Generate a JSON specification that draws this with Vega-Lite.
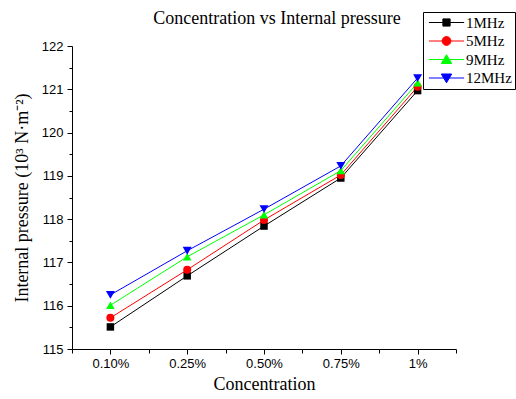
{
  "$schema": "https://vega.github.io/schema/vega-lite/v6.json",
  "width": 384,
  "height": 303,
  "autosize": {"type": "none"},
  "padding": {"left": 72, "top": 46, "right": 60, "bottom": 50},
  "background": "white",
  "config": {
    "view": {"stroke": null},
    "axis": {
      "domainColor": "black",
      "tickColor": "black",
      "grid": false,
      "labelFont": "Liberation Sans",
      "labelFontSize": 13,
      "labelColor": "black",
      "titleFont": "Liberation Serif",
      "titleFontSize": 18,
      "titleFontWeight": "normal",
      "titleColor": "black"
    },
    "legend": {
      "labelFont": "Liberation Serif",
      "labelFontSize": 15,
      "labelColor": "black"
    }
  },
  "title": {
    "text": "Concentration vs Internal pressure",
    "font": "Liberation Serif",
    "fontSize": 18,
    "fontWeight": "normal",
    "color": "black",
    "anchor": "middle",
    "dx": 13,
    "dy": 30,
    "offset": 14
  },
  "data": {
    "values": [
      {"conc": 1, "label": "0.10%", "series": "1MHz", "p": 115.51},
      {"conc": 2, "label": "0.25%", "series": "1MHz", "p": 116.69},
      {"conc": 3, "label": "0.50%", "series": "1MHz", "p": 117.84},
      {"conc": 4, "label": "0.75%", "series": "1MHz", "p": 118.95},
      {"conc": 5, "label": "1%", "series": "1MHz", "p": 120.97},
      {"conc": 1, "label": "0.10%", "series": "5MHz", "p": 115.72},
      {"conc": 2, "label": "0.25%", "series": "5MHz", "p": 116.83},
      {"conc": 3, "label": "0.50%", "series": "5MHz", "p": 117.98},
      {"conc": 4, "label": "0.75%", "series": "5MHz", "p": 119.02},
      {"conc": 5, "label": "1%", "series": "5MHz", "p": 121.06},
      {"conc": 1, "label": "0.10%", "series": "9MHz", "p": 116.01},
      {"conc": 2, "label": "0.25%", "series": "9MHz", "p": 117.13},
      {"conc": 3, "label": "0.50%", "series": "9MHz", "p": 118.1},
      {"conc": 4, "label": "0.75%", "series": "9MHz", "p": 119.12},
      {"conc": 5, "label": "1%", "series": "9MHz", "p": 121.15},
      {"conc": 1, "label": "0.10%", "series": "12MHz", "p": 116.25},
      {"conc": 2, "label": "0.25%", "series": "12MHz", "p": 117.27},
      {"conc": 3, "label": "0.50%", "series": "12MHz", "p": 118.23},
      {"conc": 4, "label": "0.75%", "series": "12MHz", "p": 119.23},
      {"conc": 5, "label": "1%", "series": "12MHz", "p": 121.26}
    ]
  },
  "encoding": {
    "x": {
      "field": "conc",
      "type": "quantitative",
      "scale": {"domain": [0.5, 5.5], "nice": false, "zero": false},
      "axis": {
        "title": "Concentration",
        "values": [0.5, 1, 1.5, 2, 2.5, 3, 3.5, 4, 4.5, 5, 5.5],
        "labelExpr": "datum.value == 1 ? '0.10%' : datum.value == 2 ? '0.25%' : datum.value == 3 ? '0.50%' : datum.value == 4 ? '0.75%' : datum.value == 5 ? '1%' : ''",
        "tickSize": {"condition": {"test": "datum.value % 1 === 0", "value": 5}, "value": 4},
        "labelPadding": 3,
        "titlePadding": 5,
        "labelFlush": false,
        "labelOverlap": false
      }
    },
    "y": {
      "field": "p",
      "type": "quantitative",
      "scale": {"domain": [115, 122], "nice": false, "zero": false},
      "axis": {
        "title": "Internal pressure (10³ N·m⁻²)",
        "values": [115, 115.5, 116, 116.5, 117, 117.5, 118, 118.5, 119, 119.5, 120, 120.5, 121, 121.5, 122],
        "labelExpr": "datum.value % 1 === 0 ? format(datum.value, 'd') : ''",
        "tickSize": {"condition": {"test": "datum.value % 1 === 0", "value": 5}, "value": 3},
        "labelPadding": 4,
        "titlePadding": 10,
        "labelFlush": false,
        "labelOverlap": false
      }
    }
  },
  "layer": [
    {
      "mark": {"type": "line", "strokeWidth": 1},
      "encoding": {
        "detail": {"field": "series"},
        "color": {
          "field": "series",
          "type": "nominal",
          "scale": {"domain": ["1MHz", "5MHz", "9MHz", "12MHz"], "range": ["#000000", "#ff0000", "#00ff00", "#0000ff"]},
          "legend": null
        },
        "order": {"field": "conc"}
      }
    },
    {
      "mark": {"type": "point", "filled": true, "opacity": 1, "size": 64},
      "encoding": {
        "color": {
          "field": "series",
          "type": "nominal",
          "scale": {"domain": ["1MHz", "5MHz", "9MHz", "12MHz"], "range": ["#000000", "#ff0000", "#00ff00", "#0000ff"]},
          "legend": null
        },
        "shape": {
          "field": "series",
          "type": "nominal",
          "scale": {"domain": ["1MHz", "5MHz", "9MHz", "12MHz"], "range": ["square", "circle", "triangle-up", "triangle-down"]},
          "legend": null
        },
        "size": {
          "field": "series",
          "type": "nominal",
          "scale": {"domain": ["1MHz", "5MHz", "9MHz", "12MHz"], "range": [56, 81, 90, 90]},
          "legend": null
        }
      }
    },
    {
      "transform": [{"filter": "false"}],
      "mark": {"type": "point", "filled": true, "opacity": 1, "size": 64, "strokeWidth": 1},
      "encoding": {
        "color": {
          "field": "series",
          "type": "nominal",
          "scale": {"domain": ["1MHz", "5MHz", "9MHz", "12MHz"], "range": ["#000000", "#ff0000", "#00ff00", "#0000ff"]},
          "legend": {
            "title": null,
            "orient": "none",
            "legendX": 351,
            "legendY": -34,
            "strokeColor": "black",
            "fillColor": "white",
            "padding": 3,
            "symbolOffset": 13,
            "labelOffset": 12,
            "rowPadding": 2.5,
            "symbolSize": 64,
            "symbolStrokeWidth": 1,
            "symbolOpacity": 1,
            "encode": {
              "symbols": {
                "update": {
                  "stroke": {"signal": "{'1MHz':'#000000','5MHz':'#ff0000','9MHz':'#00ff00','12MHz':'#0000ff'}[datum.value]"},
                  "strokeWidth": {"value": 1}
                }
              }
            }
          }
        },
        "shape": {
          "field": "series",
          "type": "nominal",
          "scale": {
            "domain": ["1MHz", "5MHz", "9MHz", "12MHz"],
            "range": [
              "M-4.4,0H4.4M-0.9,-0.9H0.9V0.9H-0.9Z",
              "M-4.4,0H4.4M-1.1,0A1.1,1.1,0,1,0,1.1,0A1.1,1.1,0,1,0,-1.1,0Z",
              "M-4.4,0H4.4M0,-1.2L1.3,1L-1.3,1Z",
              "M-4.4,0H4.4M0,1.2L1.3,-1L-1.3,-1Z"
            ]
          },
          "legend": {
            "title": null,
            "orient": "none",
            "legendX": 351,
            "legendY": -34,
            "strokeColor": "black",
            "fillColor": "white",
            "padding": 3,
            "symbolOffset": 13,
            "labelOffset": 12,
            "rowPadding": 2.5,
            "symbolSize": 64,
            "symbolStrokeWidth": 1,
            "symbolOpacity": 1
          }
        }
      }
    }
  ],
  "resolve": {"scale": {"shape": "independent", "color": "independent"}}
}
